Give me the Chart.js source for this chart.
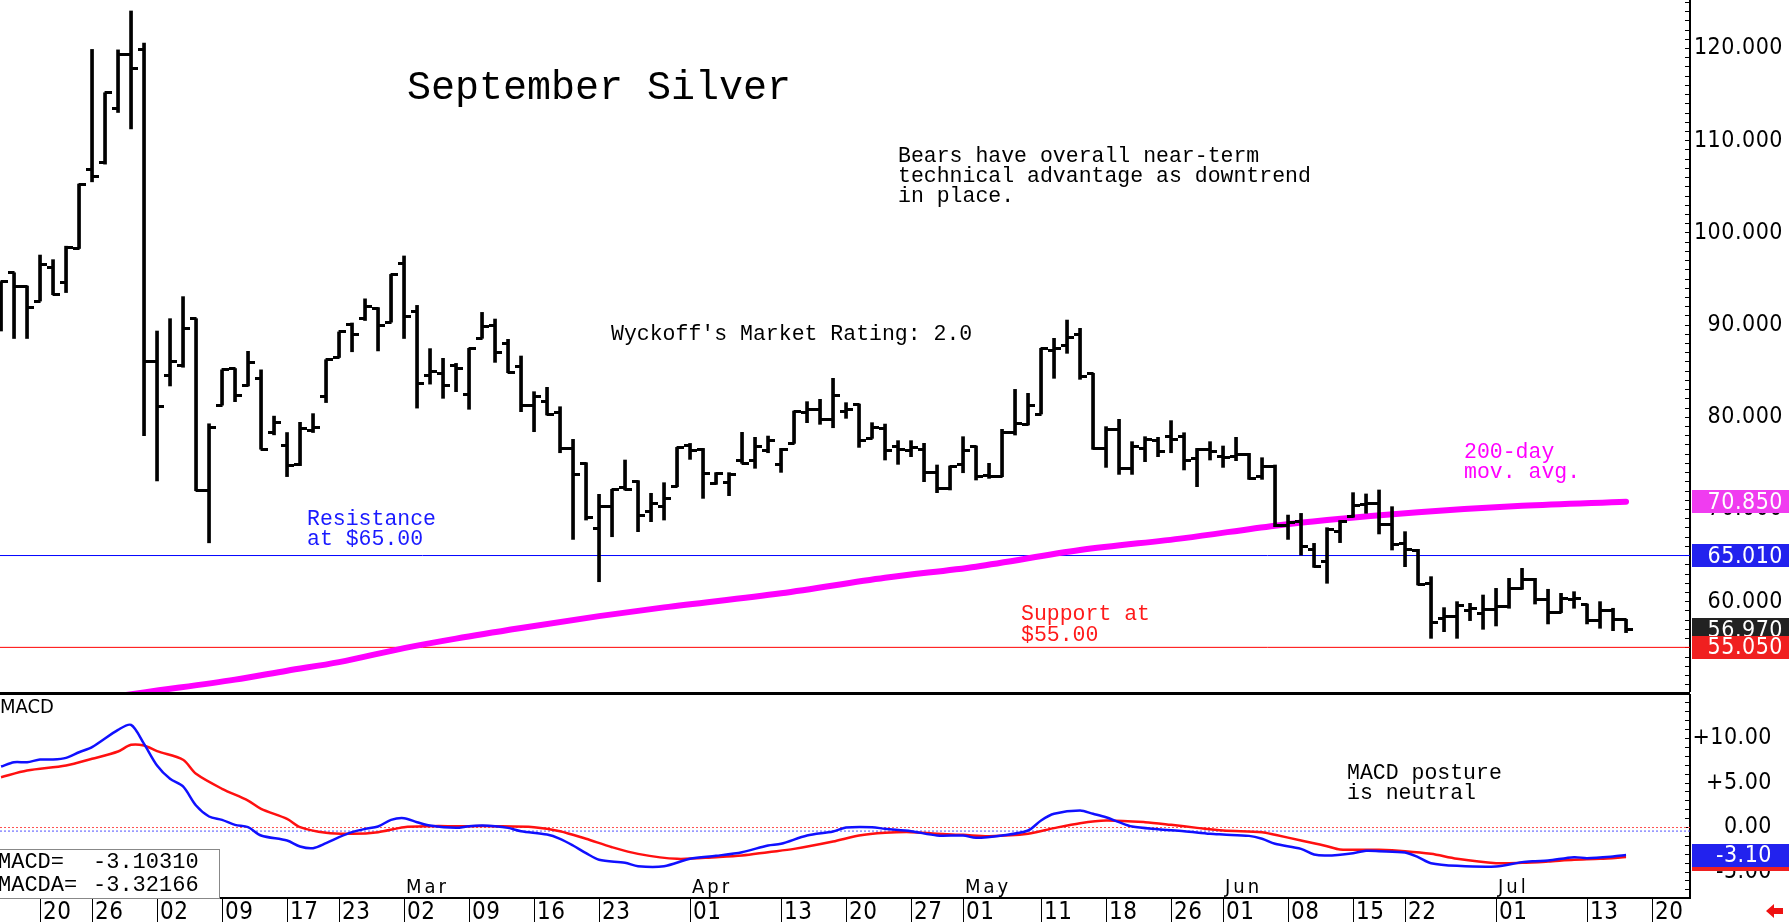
<!DOCTYPE html>
<html>
<head>
<meta charset="utf-8">
<title>September Silver</title>
<script src="https://cdn.jsdelivr.net/npm/chart.js@4.4.1/dist/chart.umd.min.js"></script>
<style>
  html, body { margin: 0; padding: 0; background: #fff; }
  #wrap { position: relative; width: 1789px; height: 922px; overflow: hidden; background: #fff; }
  #price { position: absolute; left: 0; top: 0; }
  #macd { position: absolute; left: 0; top: 692px; }
</style>
</head>
<body>
<div id="wrap">
  <canvas id="price" width="1789" height="692"></canvas>
  <canvas id="macd" width="1789" height="230"></canvas>
</div>
<script>
// daily bars, first one is 3 sessions before Jan 20 (index 0)
var firstIdx = -3;
var opens = [
  91.0, 95.68, 94.24, 92.61, 96.3, 94.63, 98.31, 106.93, 107.65, 113.5,
  119.37, 119.9, 86.0, 84.58, 85.63, 90.7, 72.04, 81.32, 85.29, 83.47,
  84.2, 78.37, 76.9, 74.9, 78.6, 82.28, 86.49, 90.08, 90.7, 91.76,
  90.32, 96.7, 91.5, 84.5, 84.77, 85.6, 82.49, 88.57, 89.94, 88.02,
  85.49, 81.33, 81.7, 80.5, 76.63, 75.01, 67.89, 70.31, 72.41, 73.02,
  69.77, 70.31, 72.48, 76.89, 76.53, 72.84, 72.9, 75.37, 75.37, 76.38,
  74.83, 77.17, 80.5, 80.9, 79.78, 80.6, 81.44, 77.72, 78.8, 76.8,
  76.4, 76.53, 73.99, 72.3, 74.83, 76.8, 73.7, 73.63, 78.33, 79.17,
  80.36, 87.3, 87.84, 89.0, 84.7, 76.63, 78.7, 74.47, 76.63, 77.5,
  77.9, 77.97, 75.55, 76.5, 75.8, 75.7, 76.0, 73.56, 74.65, 68.3,
  68.68, 65.68, 64.34, 67.6, 69.23, 70.5, 70.67, 68.43, 66.33, 65.61,
  61.99, 58.2, 58.45, 59.1, 58.74, 59.18, 59.47, 61.45, 62.43, 60.26,
  58.82, 60.2, 59.75, 57.95, 59.1, 58.09
];
var highs = [
  94.72, 95.68, 94.24, 97.6, 97.1, 98.56, 105.3, 119.9, 115.2, 119.85,
  124.07, 120.6, 89.36, 90.7, 93.09, 90.7, 79.3, 85.15, 85.29, 87.16,
  85.15, 80.13, 78.35, 79.46, 80.4, 86.25, 89.26, 90.23, 92.85, 91.9,
  95.5, 97.5, 92.14, 87.45, 86.4, 85.85, 87.48, 91.38, 90.66, 88.46,
  86.65, 82.78, 83.25, 81.15, 77.61, 75.08, 71.65, 72.19, 75.37, 73.13,
  71.76, 72.91, 76.74, 77.17, 76.63, 74.0, 74.0, 78.37, 77.83, 77.97,
  76.63, 80.68, 81.7, 81.95, 84.23, 81.59, 81.44, 79.42, 79.27, 77.47,
  77.47, 77.18, 74.83, 74.72, 77.9, 76.89, 75.01, 78.7, 83.03, 82.6,
  87.48, 88.57, 90.55, 89.65, 84.77, 78.99, 79.78, 77.36, 77.9, 77.83,
  79.64, 78.33, 76.63, 77.36, 76.89, 77.83, 76.09, 75.62, 74.83, 69.4,
  69.58, 66.33, 68.03, 68.8, 71.83, 71.69, 72.12, 70.31, 67.6, 65.68,
  62.72, 59.36, 60.01, 59.83, 60.73, 61.45, 62.54, 63.62, 62.54, 61.35,
  60.91, 61.09, 59.75, 60.01, 59.29, 58.09
];
var lows = [
  89.36, 88.55, 88.55, 92.61, 93.3, 93.53, 98.31, 105.54, 107.46, 113.06,
  111.28, 78.0, 73.1, 83.4, 85.43, 72.04, 66.39, 81.32, 81.7, 83.4,
  76.54, 78.1, 73.57, 74.76, 78.35, 81.6, 86.49, 87.11, 90.5, 87.2,
  90.32, 88.55, 81.0, 83.6, 82.06, 82.78, 80.87, 88.57, 85.96, 84.84,
  80.61, 78.44, 80.25, 76.16, 66.76, 68.86, 62.17, 67.05, 72.12, 67.6,
  68.68, 68.86, 72.48, 75.44, 71.21, 72.73, 71.5, 75.01, 74.47, 76.16,
  74.03, 77.17, 79.42, 79.24, 78.87, 79.89, 76.74, 77.72, 75.37, 74.9,
  75.73, 73.02, 71.83, 72.12, 73.99, 73.2, 73.38, 73.56, 78.08, 79.17,
  80.36, 84.23, 86.94, 84.12, 76.53, 74.57, 73.81, 73.81, 75.19, 75.73,
  76.16, 74.29, 72.48, 75.37, 74.57, 75.3, 73.27, 73.27, 68.14, 66.76,
  65.06, 63.73, 62.0, 66.41, 69.16, 69.59, 67.35, 65.61, 63.8, 61.82,
  56.03, 56.75, 56.03, 57.95, 57.01, 57.37, 59.29, 61.35, 59.75, 57.59,
  58.82, 59.29, 57.59, 57.12, 56.86, 56.65
];
var closes = [
  94.72, 94.15, 91.86, 96.54, 93.3, 98.47, 105.3, 106.1, 115.2, 119.37,
  117.84, 86.0, 81.13, 86.0, 89.6, 72.04, 78.93, 85.15, 82.42, 85.9,
  76.54, 79.4, 74.76, 78.83, 78.93, 86.25, 89.26, 88.98, 92.0, 89.94,
  95.5, 90.89, 83.7, 85.0, 83.5, 85.3, 87.48, 89.83, 87.01, 84.84,
  81.33, 82.31, 80.32, 76.63, 73.81, 69.15, 70.31, 72.19, 72.12, 69.3,
  70.67, 71.21, 76.74, 76.45, 73.92, 73.92, 73.85, 75.01, 76.82, 77.47,
  76.53, 80.68, 80.8, 79.8, 82.42, 80.8, 77.54, 78.91, 76.45, 76.5,
  76.7, 73.99, 72.3, 74.72, 76.45, 73.56, 73.6, 78.33, 79.35, 81.33,
  87.48, 87.5, 88.67, 84.41, 76.63, 78.7, 74.47, 76.82, 77.61, 76.27,
  77.6, 75.37, 76.53, 76.3, 75.6, 76.0, 73.38, 74.65, 68.32, 68.6,
  66.04, 63.8, 67.85, 68.69, 70.49, 70.6, 68.43, 66.26, 65.68, 61.92,
  57.73, 58.4, 59.54, 59.3, 59.18, 59.47, 61.45, 62.43, 60.26, 58.82,
  60.37, 60.3, 57.95, 59.03, 58.09, 56.97
];

// 200-day moving average, read at a few sessions
var maIdx = [-3, 8, 15, 19, 23, 28, 32, 37, 43, 48, 57, 65, 72, 80, 88, 95, 99, 106, 114, 122];
var maVal = [47.9, 50.17, 51.55, 52.52, 53.45, 54.97, 56.0, 57.15, 58.44, 59.39, 60.92, 62.6, 63.8, 65.6, 66.9, 68.25, 68.86, 69.7, 70.4, 70.85];

var resistance = 65.01;
var support = 55.05;

// MACD (blue) and its average (red)
var macdIdx = [-3,-2,-1,0,1,2,3,4,6,7,8,9,10,11,12,13,14,15,16,17,19,20,21,22,23,24,25,26,27,28,29,30,32,33,34,35,36,37,39,40,41,42,43,45,46,48,50,52,54,56,57,59,61,62,64,65,67,69,71,72,74,76,77,78,80,81,82,83,84,86,88,90,91,93,94,95,97,98,99,101,102,103,105,106,107,109,112,114,115,116,118,119,121,122];
var macdVal = [6.85,7.34,7.34,7.64,7.64,7.83,8.46,9.03,10.97,11.53,9.40,6.97,5.47,4.61,2.47,1.24,0.86,0.30,0.04,-0.90,-1.46,-2.13,-2.32,-1.76,-1.09,-0.52,-0.15,0.11,0.86,1.05,0.60,0.22,-0.04,0.15,0.22,0.15,-0.04,-0.41,-0.79,-1.27,-2.02,-2.88,-3.63,-3.97,-4.35,-4.35,-3.52,-3.18,-2.77,-2.02,-1.83,-0.90,-0.45,0.0,0.04,-0.15,-0.41,-0.90,-0.90,-1.16,-0.90,-0.34,0.79,1.54,1.91,1.54,1.16,0.60,0.11,-0.19,-0.41,-0.71,-0.79,-0.94,-1.27,-1.83,-2.40,-3.03,-3.15,-2.88,-2.62,-2.66,-2.81,-3.33,-4.01,-4.31,-4.38,-3.89,-3.78,-3.71,-3.33,-3.44,-3.26,-3.10];
var signalIdx = [-3,-1,2,4,6,7,8,9,11,12,14,16,17,19,20,22,24,26,28,30,32,35,38,40,42,44,46,49,52,54,56,58,61,63,65,67,69,71,73,76,78,80,82,85,87,89,91,94,95,97,99,100,103,105,107,109,112,114,116,118,120,122];
var signalVal = [5.65,6.40,6.97,7.72,8.54,9.29,9.21,8.58,7.61,6.03,4.35,3.03,2.10,0.97,0.04,-0.60,-0.71,-0.52,0.04,0.15,0.15,0.15,0.04,-0.41,-1.27,-2.21,-2.96,-3.52,-3.33,-3.15,-2.77,-2.40,-1.57,-0.90,-0.60,-0.52,-0.71,-0.82,-0.97,-0.71,-0.07,0.49,0.79,0.60,0.30,-0.04,-0.34,-0.52,-0.82,-1.46,-2.10,-2.47,-2.51,-2.66,-2.96,-3.52,-4.01,-3.97,-3.82,-3.63,-3.52,-3.32];
var macdLast = '-3.10310';
var macdaLast = '-3.32166';

// date axis
var tickIdx = [0, 4, 9, 14, 19, 23, 28, 33, 38, 43, 50, 57, 62, 67, 71, 77, 82, 87, 91, 96, 101, 105, 112, 119, 124];
var tickText = ['20','26','02','09','17','23','02','09','16','23','01','13','20','27','01','11','18','26','01','08','15','22','01','13','20'];
var monthIdx = [28, 50, 71, 91, 112];
var monthText = ['Mar', 'Apr', 'May', 'Jun', 'Jul'];

var xMin = -3.08, xMax = 126.92;
var NARROW = "'Liberation Sans Narrow', 'DejaVu Sans Condensed', 'Liberation Sans', sans-serif";
var MONO = "'Liberation Mono', 'DejaVu Sans Mono', monospace";

// little open / close ticks used as point styles
function tickMark(side) {
    var c = document.createElement('canvas');
    c.width = 13; c.height = 3;
    var g = c.getContext('2d');
    g.fillStyle = '#000';
    if (side === 'left') g.fillRect(0, 0, 7, 3);
    else g.fillRect(6, 0, 7, 3);
    return c;
}
var openMark = tickMark('left');
var closeMark = tickMark('right');

function label(ctx, str, x, y, font, color, spacing) {
    ctx.save();
    ctx.font = font;
    ctx.fillStyle = color;
    ctx.letterSpacing = (spacing || 0) + 'px';
    ctx.textAlign = 'left';
    ctx.textBaseline = 'alphabetic';
    ctx.fillText(str, x, y);
    ctx.restore();
}

function tag(chart, scale, value, text, bg, right) {
    var ctx = chart.ctx;
    var y = scale.getPixelForValue(value);
    ctx.save();
    ctx.fillStyle = bg;
    ctx.fillRect(scale.left + 2, Math.round(y - 11.5), chart.width - scale.left - 2, 23);
    ctx.font = '23px ' + NARROW;
    ctx.letterSpacing = '0.5px';
    ctx.fillStyle = '#fff';
    ctx.textAlign = 'right';
    ctx.textBaseline = 'middle';
    ctx.fillText(text, right, y + 1);
    ctx.restore();
}

function pts(xs, ys) {
    return xs.map(function(x, i) { return {x: x, y: ys[i]}; });
}

var priceNotes = {
    id: 'priceNotes',
    beforeDraw: function(chart) { chart.ctx.letterSpacing = '0.5px'; },
    afterDraw: function(chart) {
        var ctx = chart.ctx, y = chart.scales.y;
        var note = '21.5px ' + MONO;
        label(ctx, 'September Silver', 407, 99, '40px ' + MONO, '#000');
        label(ctx, 'Bears have overall near-term', 898, 162, note, '#000');
        label(ctx, 'technical advantage as downtrend', 898, 182, note, '#000');
        label(ctx, 'in place.', 898, 202, note, '#000');
        label(ctx, "Wyckoff's Market Rating: 2.0", 611, 340, note, '#000');
        label(ctx, 'Resistance', 307, 525, note, '#1a1aff');
        label(ctx, 'at $65.00', 307, 545, note, '#1a1aff');
        label(ctx, 'Support at', 1021, 620, note, '#ff1a1a');
        label(ctx, '$55.00', 1021, 641, note, '#ff1a1a');
        label(ctx, '200-day', 1464, 458, note, '#ff00ff');
        label(ctx, 'mov. avg.', 1464, 478, note, '#ff00ff');

        tag(chart, y, maVal[maVal.length - 1], maVal[maVal.length - 1].toFixed(3), '#f03cf0', 1783);
        tag(chart, y, resistance, resistance.toFixed(3), '#2222ee', 1783);
        tag(chart, y, closes[closes.length - 1], closes[closes.length - 1].toFixed(3), '#222222', 1783);
        tag(chart, y, support, support.toFixed(3), '#f02020', 1783);
    }
};

var macdNotes = {
    id: 'macdNotes',
    beforeDraw: function(chart) { chart.ctx.letterSpacing = '0.5px'; },
    afterDraw: function(chart) {
        var ctx = chart.ctx, x = chart.scales.x, y = chart.scales.y, area = chart.chartArea;
        ctx.save();
        ctx.fillStyle = '#000';
        ctx.fillRect(0, 0, area.right, 3);
        ctx.restore();

        label(ctx, 'MACD', 0, 21, '20px ' + NARROW, '#000', 0);
        monthIdx.forEach(function(m, i) {
            label(ctx, monthText[i], x.getPixelForValue(m) + 2, 201, '20px ' + NARROW, '#000', 3);
        });
        label(ctx, 'MACD posture', 1347, 87, '21.5px ' + MONO, '#000');
        label(ctx, 'is neutral', 1347, 107, '21.5px ' + MONO, '#000');

        // value box bottom-left
        ctx.save();
        ctx.fillStyle = '#fff';
        ctx.fillRect(-2, 157, 222, 49);
        ctx.strokeStyle = '#888';
        ctx.lineWidth = 1;
        ctx.strokeRect(-1.5, 157.5, 221, 49);
        ctx.restore();
        label(ctx, 'MACD=', -2, 176, '22px ' + MONO, '#000');
        label(ctx, macdLast, 93, 176, '22px ' + MONO, '#000');
        label(ctx, 'MACDA=', -2, 199, '22px ' + MONO, '#000');
        label(ctx, macdaLast, 93, 199, '22px ' + MONO, '#000');

        tag(chart, y, signalVal[signalVal.length - 1] - 0.25, '', '#f02020', 1772);
        tag(chart, y, macdVal[macdVal.length - 1], macdVal[macdVal.length - 1].toFixed(2), '#2222ee', 1772);

        // red arrow, bottom right corner
        ctx.save();
        ctx.fillStyle = '#ee1111';
        ctx.beginPath();
        ctx.moveTo(1766, 219);
        ctx.lineTo(1774, 212);
        ctx.lineTo(1774, 216);
        ctx.lineTo(1783, 216);
        ctx.lineTo(1783, 222);
        ctx.lineTo(1774, 222);
        ctx.lineTo(1774, 226);
        ctx.closePath();
        ctx.fill();
        ctx.restore();
    }
};

// right axis keeps the plot edge at x = 1690
function squeezeTo(w) {
    return function(axis) {
        axis.width = w;
        axis.paddingTop = 0;
        axis.paddingBottom = 0;
    };
}

function noSidePad(axis) {
    axis.paddingLeft = 0;
    axis.paddingRight = 0;
}

new Chart(document.getElementById('price'), {
    type: 'bar',
    data: {
        datasets: [
            {
                type: 'bar',
                data: highs.map(function(h, i) { return {x: i + firstIdx, y: [lows[i], h]}; }),
                backgroundColor: '#000',
                borderWidth: 0,
                barThickness: 3,
                order: 1
            },
            {
                type: 'scatter',
                data: opens.map(function(o, i) { return {x: i + firstIdx, y: o}; }),
                pointStyle: openMark,
                order: 0
            },
            {
                type: 'scatter',
                data: closes.map(function(c, i) { return {x: i + firstIdx, y: c}; }),
                pointStyle: closeMark,
                order: 0
            },
            {
                type: 'line',
                data: pts(maIdx, maVal),
                borderColor: '#ff00ff',
                borderWidth: 6,
                borderCapStyle: 'round',
                pointRadius: 0,
                cubicInterpolationMode: 'monotone',
                order: 3
            },
            {
                type: 'line',
                data: [{x: xMin, y: resistance}, {x: xMax, y: resistance}],
                borderColor: '#0000ff',
                borderWidth: 1,
                pointRadius: 0,
                order: 4
            },
            {
                type: 'line',
                data: [{x: xMin, y: support}, {x: xMax, y: support}],
                borderColor: '#ff0000',
                borderWidth: 1,
                pointRadius: 0,
                order: 4
            }
        ]
    },
    options: {
        responsive: false,
        animation: false,
        events: [],
        layout: { autoPadding: false, padding: { top: 0, left: 0, bottom: 0, right: 6 } },
        plugins: { legend: { display: false }, tooltip: { enabled: false } },
        scales: {
            x: {
                type: 'linear', min: xMin, max: xMax, display: false, offset: false,
                ticks: { display: false },
                afterFit: noSidePad
            },
            y: {
                type: 'linear',
                position: 'right',
                min: 50.21,
                max: 125.26,
                afterFit: squeezeTo(93),
                border: { display: true, color: '#000', width: 2 },
                grid: { drawOnChartArea: false, drawTicks: true, tickLength: -5, tickColor: '#000' },
                ticks: {
                    stepSize: 1,
                    maxTicksLimit: 200,
                    autoSkip: false,
                    includeBounds: false,
                    crossAlign: 'far',
                    color: '#000',
                    font: { family: NARROW, size: 23 },
                    callback: function(v) {
                        return Math.abs(v - Math.round(v / 10) * 10) < 1e-6 ? v.toFixed(3) : '';
                    }
                }
            }
        }
    },
    plugins: [priceNotes]
});

new Chart(document.getElementById('macd'), {
    type: 'line',
    data: {
        datasets: [
            { data: pts(macdIdx, macdVal), borderColor: '#1010ff', borderWidth: 2.5, pointRadius: 0, tension: 0.3, order: 0 },
            { data: pts(signalIdx, signalVal), borderColor: '#ff1010', borderWidth: 2.5, pointRadius: 0, tension: 0.3, order: 1 },
            { data: [{x: xMin, y: 0}, {x: xMax, y: 0}], borderColor: '#ff5050', borderWidth: 1, borderDash: [2, 2], pointRadius: 0, order: 2 },
            { data: [{x: xMin, y: -0.4}, {x: xMax, y: -0.4}], borderColor: '#5050ff', borderWidth: 1, borderDash: [2, 2], pointRadius: 0, order: 2 }
        ]
    },
    options: {
        responsive: false,
        animation: false,
        events: [],
        layout: { autoPadding: false, padding: { top: 3, left: 0, right: 17, bottom: 0 } },
        plugins: { legend: { display: false }, tooltip: { enabled: false } },
        scales: {
            x: {
                type: 'linear',
                min: xMin,
                max: xMax,
                offset: false,
                afterBuildTicks: function(axis) {
                    axis.ticks = tickIdx.map(function(v) { return {value: v}; });
                },
                afterFit: function(axis) {
                    axis.height = 24;
                    noSidePad(axis);
                },
                border: { display: true, color: '#000', width: 2 },
                grid: { drawOnChartArea: false, drawTicks: true, tickLength: 24, color: '#000', lineWidth: 1 },
                ticks: {
                    autoSkip: false,
                    maxRotation: 0,
                    minRotation: 0,
                    align: 'start',
                    labelOffset: 3,
                    padding: -24,
                    color: '#000',
                    font: { family: NARROW, size: 24 },
                    callback: function(v, i) { return tickText[i]; }
                }
            },
            y: {
                type: 'linear',
                position: 'right',
                min: -7.92,
                max: 14.89,
                afterFit: squeezeTo(82),
                border: { display: true, color: '#000', width: 2 },
                grid: { drawOnChartArea: false, drawTicks: true, tickLength: -5, tickColor: '#000' },
                ticks: {
                    stepSize: 1,
                    maxTicksLimit: 100,
                    autoSkip: false,
                    includeBounds: false,
                    crossAlign: 'far',
                    color: '#000',
                    font: { family: NARROW, size: 23 },
                    callback: function(v) {
                        if (Math.abs(v - Math.round(v / 5) * 5) > 1e-6) return '';
                        return (v > 0 ? '+' : '') + v.toFixed(2);
                    }
                }
            }
        }
    },
    plugins: [macdNotes]
});
</script>
</body>
</html>
